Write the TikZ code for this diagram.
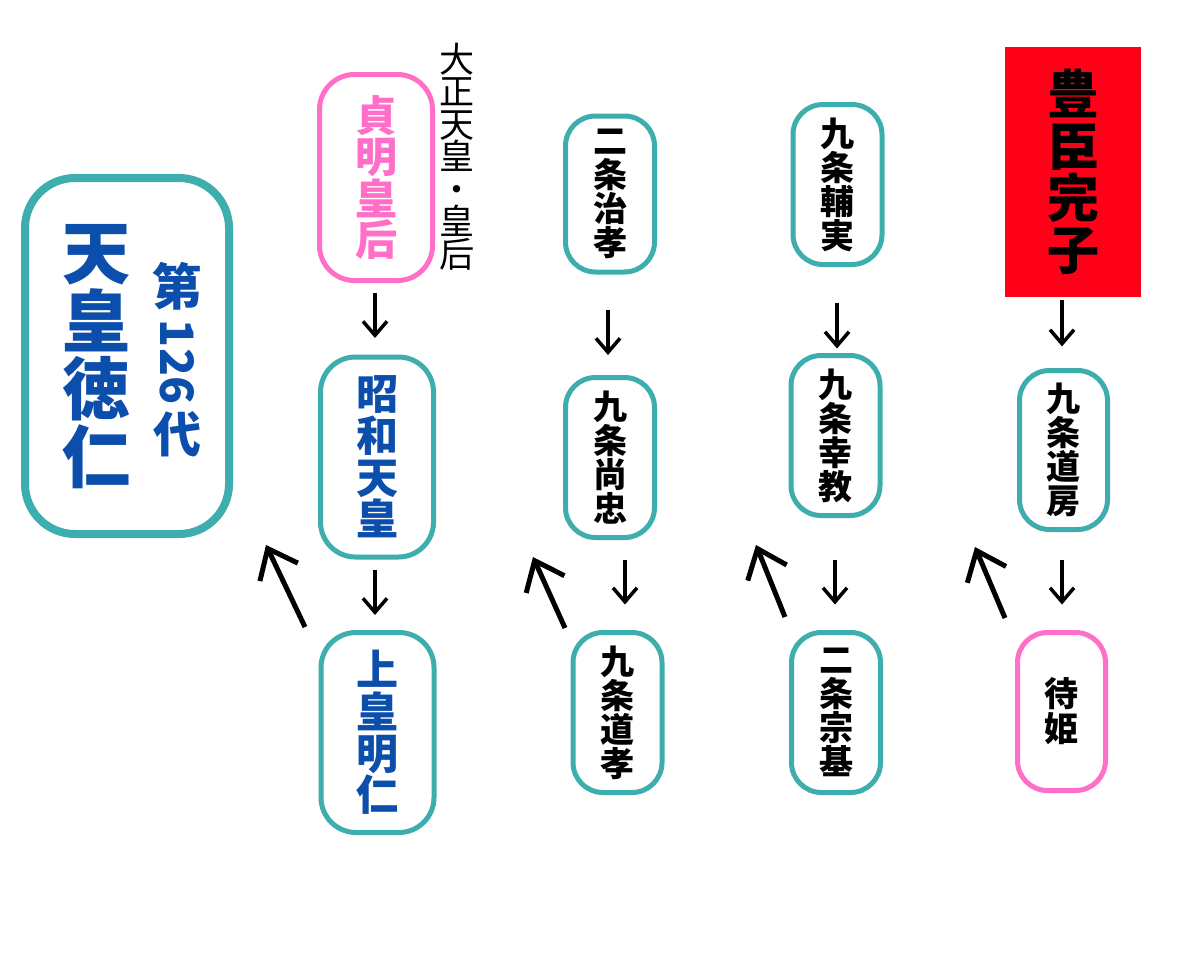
\documentclass[tikz,border=0pt]{standalone}
\usepackage{fontspec}
\usepackage{graphicx}
\newfontfamily\jp{Noto Sans CJK JP}
\usetikzlibrary{arrows.meta,calc}
\definecolor{teal1}{RGB}{62,173,173}
\definecolor{pink1}{RGB}{255,110,199}
\definecolor{blue1}{RGB}{12,78,172}
\definecolor{red1}{RGB}{255,0,25}
\lineskiplimit=-\maxdimen
\lineskip=0pt
\tikzset{
  vt/.style={align=center, inner sep=0pt},
  tealbox/.style={draw=teal1, line width=2.5pt, rounded corners=15pt, fill=white, align=center},
  pinkbox/.style={draw=pink1, line width=2.5pt, rounded corners=15pt, fill=white, align=center},
  smallname/.style={minimum width=44.5pt, minimum height=80pt, text=black,
     font=\jp\bfseries\fontsize{17}{17}\selectfont},
  bigname/.style={minimum width=56.5pt, minimum height=100pt, rounded corners=17.5pt,
     font=\jp\bfseries\fontsize{21}{20.8}\selectfont},
  darr/.style={line width=1.75pt, -{Straight Barb[length=7pt,width=12pt]}},
  uarr/.style={line width=2.5pt, -{Straight Barb[length=13pt,width=21pt]}}
}
\begin{document}
\begin{tikzpicture}[x=0.5pt,y=-0.5pt]
\useasboundingbox[fill=white] (0,0) rectangle (1200,960);

% big box
\node[draw=teal1, line width=4pt, rounded corners=25pt, minimum width=102pt, minimum height=178pt] (tenno) at (127,356) {};
\node[vt, text=blue1, font=\jp\bfseries\fontsize{34}{34}\selectfont] (naruhito) at (96,357) {天\\皇\\徳\\仁};
\node[vt, text=blue1, font=\jp\bfseries\fontsize{25}{25}\selectfont] (dai) at (177,286) {第};
\node[vt, text=blue1, font=\jp\bfseries\fontsize{23}{23}\selectfont, rotate=-90] (num) at (177,362) {126};
\node[vt, text=blue1, font=\jp\bfseries\fontsize{24}{24}\selectfont] (yo) at (177,434) {代};

% column 1
\node[pinkbox, bigname, text=pink1, minimum height=103pt] (teimei) at (376,177.5) {貞\\明\\皇\\后};
\node[vt, font=\jp\fontsize{17.5}{16.25}\selectfont] (taisho) at (457,156.5) {大\\正\\天\\皇\\・\\皇\\后};
\node[tealbox, bigname, text=blue1] (showa) at (377,457) {昭\\和\\天\\皇};
\node[tealbox, bigname, text=blue1] (akihito) at (377.5,732.5) {上\\皇\\明\\仁};

% column 2
\node[tealbox, smallname, minimum height=78pt] (harutaka) at (610,194) {二\\条\\治\\孝};
\node[tealbox, smallname] (hisatada) at (610,457.5) {九\\条\\尚\\忠};
\node[tealbox, smallname] (michitaka) at (617.5,712.5) {九\\条\\道\\孝};

% column 3
\node[tealbox, smallname] (suketsune) at (837.5,184.5) {九\\条\\輔\\実};
\node[tealbox, smallname] (yukinori) at (835.5,435.5) {九\\条\\幸\\教};
\node[tealbox, smallname] (munemoto) at (836,712.5) {二\\条\\宗\\基};

% column 4
\node[fill=red1, minimum width=68pt, minimum height=125pt, align=center,
      font=\jp\bfseries\fontsize{26}{26}\selectfont] (sadako) at (1073,172) {豊\\臣\\完\\子};
\node[tealbox, smallname, minimum width=44pt, minimum height=79.5pt] (michifusa) at (1063.5,450) {九\\条\\道\\房};
\node[pinkbox, smallname, minimum width=44pt, minimum height=79pt, font=\jp\bfseries\fontsize{17}{17.5}\selectfont] (machihime) at (1061.5,711.5) {待\\姫};

% down arrows
\draw[darr] ($(teimei.south)+(-1,10)$) -- ++(0,45);
\draw[darr] ($(showa.south)+(-2,10.5)$) -- ++(0,45);
\draw[darr] ($(harutaka.south)+(-2,35.5)$) -- ++(0,45);
\draw[darr] ($(hisatada.south)+(15,19.5)$) -- ++(0,45);
\draw[darr] ($(suketsune.south)+(-0.5,35.5)$) -- ++(0,46);
\draw[darr] ($(yukinori.south)+(-0.5,41.5)$) -- ++(0,45);
\draw[darr] ($(sadako.south)+(-11,3)$) -- ++(0,46);
\draw[darr] ($(michifusa.south)+(-1.5,27.5)$) -- ++(0,45);

% up-left arrows
\coordinate (a1) at (305,627); \coordinate (a2) at (266,545);
\coordinate (b1) at (565,628); \coordinate (b2) at (533,557);
\coordinate (c1) at (785,617); \coordinate (c2) at (756,545);
\coordinate (d1) at (1005,618); \coordinate (d2) at (975,547);
\draw[uarr] (a1) -- (a2);
\draw[uarr] (b1) -- (b2);
\draw[uarr] (c1) -- (c2);
\draw[uarr] (d1) -- (d2);
\end{tikzpicture}
\end{document}
